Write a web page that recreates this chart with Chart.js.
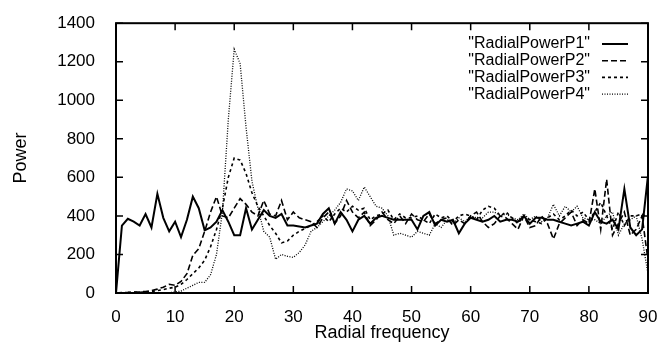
<!DOCTYPE html>
<html>
<head>
<meta charset="utf-8">
<script src="https://cdn.jsdelivr.net/npm/chart.js@4/dist/chart.umd.min.js"></script>
<style>
  html, body { margin: 0; padding: 0; background: #fff; }
  #wrap { width: 669px; height: 344px; position: relative; }
</style>
</head>
<body>
<div id="wrap"><canvas id="chart"></canvas></div>
<script>
// Radial power spectra, 4 series, x = 0..90
const freq = Array.from({ length: 91 }, (_, i) => i);
const seriesNames = ['"RadialPowerP1"', '"RadialPowerP2"', '"RadialPowerP3"', '"RadialPowerP4"'];
const xTicks = [0, 10, 20, 30, 40, 50, 60, 70, 80, 90];
const yTicks = [0, 200, 400, 600, 800, 1000, 1200, 1400];

const p1 = [0, 350, 385, 370, 350, 410, 340, 515, 390, 320, 370, 290, 380, 500, 440, 325, 340, 370, 430, 370,
  300, 300, 440, 330, 380, 430, 400, 390, 410, 350, 350, 345, 340, 350, 360, 410, 440, 360, 420, 380,
  320, 380, 400, 360, 390, 400, 390, 380, 380, 380, 380, 330, 400, 420, 350, 380, 370, 380, 310, 360,
  390, 380, 370, 380, 400, 370, 380, 380, 370, 400, 360, 390, 390, 380, 380, 370, 360, 350, 360, 370,
  350, 420, 370, 360, 380, 330, 540, 340, 300, 330, 610];
const p2 = [0, 2, 3, 5, 6, 8, 12, 20, 30, 45, 40, 60, 100, 195, 230, 320, 420, 500, 400, 390,
  440, 490, 460, 420, 400, 480, 410, 400, 480, 380, 420, 390, 380, 370, 340, 390, 420, 360, 400, 480,
  420, 390, 420, 350, 380, 420, 380, 360, 400, 360, 410, 380, 370, 410, 360, 380, 390, 350, 380, 360,
  400, 420, 370, 340, 360, 400, 390, 360, 330, 400, 340, 350, 400, 360, 280, 360, 390, 420, 350, 380,
  360, 540, 330, 590, 300, 360, 420, 300, 330, 400, 170];
const p3 = [0, 1, 2, 3, 4, 5, 8, 12, 18, 25, 30, 45, 70, 100, 130, 170, 240, 330, 440, 600,
  700, 690, 620, 520, 450, 400, 350, 310, 260, 270, 300, 320, 335, 350, 370, 400, 370, 410, 440, 420,
  450, 430, 440, 380, 400, 410, 430, 380, 410, 390, 390, 400, 380, 360, 410, 390, 400, 370, 400, 410,
  400, 380, 430, 450, 440, 400, 420, 390, 360, 400, 380, 370, 360, 390, 410, 380, 400, 430, 400, 420,
  380, 420, 470, 400, 330, 420, 350, 400, 400, 410, 390];
const p4 = [0, 0, 0, 1, 1, 1, 1, 2, 2, 2, 5, 10, 25, 40, 55, 55, 95, 200, 420, 900,
  1265, 1190, 860, 580, 440, 320, 290, 175, 200, 190, 185, 210, 250, 320, 340, 370, 400, 430, 470, 540,
  530, 480, 550, 500, 450, 440, 400, 300, 310, 300, 290, 320, 310, 300, 360, 340, 380, 360, 390, 370,
  400, 390, 390, 420, 420, 400, 410, 390, 380, 410, 380, 400, 370, 390, 460, 400, 450, 420, 450, 390,
  380, 380, 360, 400, 420, 300, 360, 380, 400, 280, 100];

const seriesData = [p1, p2, p3, p4];
const dashes = [[], [6, 3], [3, 3], [1, 1.5]];
const widths = [2, 1.6, 1.6, 1.3];

const FONT = 'Liberation Sans, Arial, Helvetica, sans-serif';

// frame, inward ticks and the gnuplot-like legend
const framePlugin = {
  id: 'frame',
  afterDraw(chart) {
    const { ctx, chartArea: a, scales } = chart;
    ctx.save();
    ctx.strokeStyle = '#000';
    ctx.lineWidth = 1.5;
    xTicks.forEach(v => {
      const px = scales.x.getPixelForValue(v);
      ctx.beginPath();
      ctx.moveTo(px, a.bottom); ctx.lineTo(px, a.bottom - 7);
      ctx.moveTo(px, a.top); ctx.lineTo(px, a.top + 7);
      ctx.stroke();
    });
    yTicks.forEach(v => {
      const py = scales.y.getPixelForValue(v);
      ctx.beginPath();
      ctx.moveTo(a.left, py); ctx.lineTo(a.left + 7, py);
      ctx.moveTo(a.right, py); ctx.lineTo(a.right - 7, py);
      ctx.stroke();
    });
    ctx.lineWidth = 2;
    ctx.strokeRect(a.left, a.top, a.right - a.left, a.bottom - a.top);

    // legend
    ctx.font = '16px ' + FONT;
    ctx.textAlign = 'right';
    ctx.textBaseline = 'middle';
    ctx.fillStyle = '#000';
    const textRight = 590, lineX0 = 602, lineX1 = 628;
    chart.data.datasets.forEach((ds, i) => {
      const y = 44 + i * 16.7;
      ctx.fillText(ds.label, textRight, y);
      ctx.beginPath();
      ctx.setLineDash(ds.borderDash);
      ctx.lineWidth = ds.borderWidth;
      ctx.moveTo(lineX0, y); ctx.lineTo(lineX1, y);
      ctx.stroke();
    });
    ctx.restore();
  }
};

new Chart(document.getElementById('chart'), {
  type: 'line',
  data: {
    labels: freq,
    datasets: seriesData.map((d, i) => ({
      label: seriesNames[i],
      data: d.map((v, j) => ({ x: freq[j], y: v })),
      borderColor: '#000',
      borderWidth: widths[i],
      borderDash: dashes[i],
      pointRadius: 0,
      tension: 0,
      fill: false
    }))
  },
  options: {
    responsive: true,
    maintainAspectRatio: false,
    animation: false,
    layout: { padding: { left: 0, right: 21, top: 13, bottom: 0 } },
    plugins: { legend: { display: false }, tooltip: { enabled: false } },
    scales: {
      x: {
        type: 'linear', min: 0, max: 90,
        afterBuildTicks: s => { s.ticks = xTicks.map(v => ({ value: v })); },
        afterFit: s => { s.height = 51; },
        grid: { display: false },
        border: { display: false },
        ticks: { color: '#000', font: { family: FONT, size: 17 }, padding: 6, maxRotation: 0, callback: v => String(v) },
        title: { display: true, text: 'Radial frequency', color: '#000', font: { family: FONT, size: 18 }, padding: { top: 0, bottom: 0 } }
      },
      y: {
        min: 0, max: 1400,
        afterBuildTicks: s => { s.ticks = yTicks.map(v => ({ value: v })); },
        afterFit: s => { s.width = 116; },
        grid: { display: false },
        border: { display: false },
        ticks: { color: '#000', font: { family: FONT, size: 17 }, padding: 13, callback: v => String(v) },
        title: { display: true, text: 'Power', color: '#000', font: { family: FONT, size: 18 }, padding: { top: 10, bottom: 0 } }
      }
    }
  },
  plugins: [framePlugin]
});
</script>
</body>
</html>
